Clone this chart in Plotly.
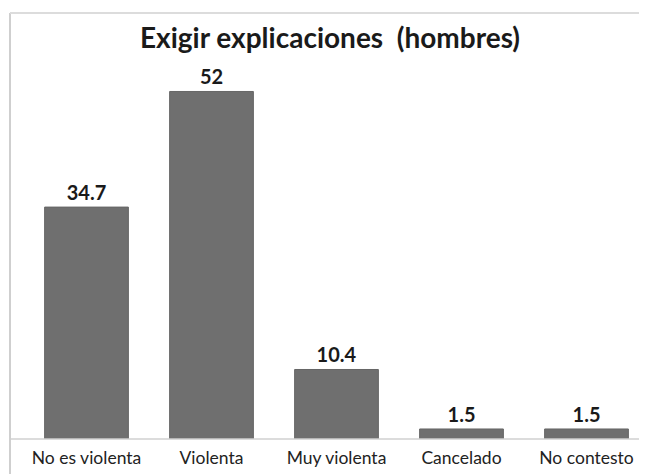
import plotly.graph_objects as go

categories = ["No es violenta", "Violenta", "Muy violenta", "Cancelado", "No contesto"]
values = [34.7, 52, 10.4, 1.5, 1.5]
value_labels = ["34.7", "52", "10.4", "1.5", "1.5"]
title_text = "Exigir explicaciones  (hombres)"

OFF = 8  # default page body margin
W, H = 647 - OFF, 474 - OFF
L, R, T, B = 24 - OFF, 0, 38 - OFF, 35
pw = W - L - R
ph = H - T - B
fx = 10 - OFF  # frame left edge
fy = 13 - OFF  # frame top edge

fig = go.Figure(go.Bar(
    x=categories, y=values,
    marker=dict(color="#6f6f6f", line=dict(color="#666666", width=1)),
    text=value_labels, textposition="outside",
    textfont=dict(family="Lato", size=20, color="#1a1a1a", weight="bold"),
    cliponaxis=False, width=0.67,
))

fig.update_layout(
    width=W, height=H,
    margin=dict(l=L, r=R, t=T, b=B, autoexpand=False),
    paper_bgcolor="white", plot_bgcolor="white",
    showlegend=False,
    title=dict(text=title_text, x=(330 - OFF) / W, xanchor="center",
               xref="container", yref="container", y=1 - (28 - OFF) / H, yanchor="top",
               pad=dict(t=0, b=0),
               font=dict(family="Lato", size=28, color="#1a1a1a", weight="bold")),
    xaxis=dict(range=[-0.5, -0.5 + pw / 125.0], showgrid=False, zeroline=False,
               showline=False, ticks="", automargin=False, ticklabelstandoff=6,
               tickfont=dict(family="Lato", size=17.5, color="#222222"),
               fixedrange=True),
    yaxis=dict(range=[0, 60], visible=False, fixedrange=True, automargin=False),
    shapes=[
        dict(type="line", xref="paper", yref="paper", x0=(fx - L) / pw, x1=1.05, y0=0, y1=0,
             line=dict(color="#d0d0d0", width=1.5)),
        dict(type="line", xref="paper", yref="paper", x0=(fx - L) / pw, x1=(fx - L) / pw,
             y0=-B / ph, y1=1 + (T - fy) / ph,
             line=dict(color="#cfcfcf", width=2)),
        dict(type="line", xref="paper", yref="paper", x0=(fx - L) / pw, x1=1.05,
             y0=1 + (T - fy) / ph, y1=1 + (T - fy) / ph,
             line=dict(color="#dcdcdc", width=2)),
    ],
)

fig.write_html("out.html")
